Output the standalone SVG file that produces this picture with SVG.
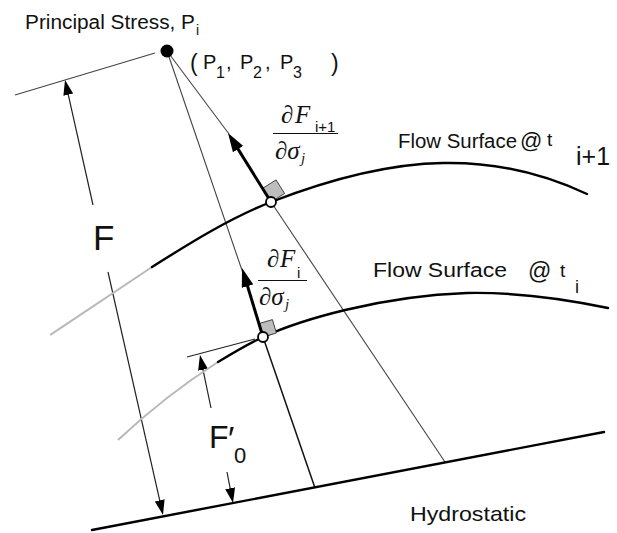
<svg xmlns="http://www.w3.org/2000/svg" width="617" height="533" viewBox="0 0 617 533">
<defs>
<marker id="ah" markerUnits="userSpaceOnUse" markerWidth="15" markerHeight="10" refX="5" refY="5" orient="auto"><path d="M0,0 L15,5 L0,10 z" fill="#000"/></marker>
<marker id="ahb" markerUnits="userSpaceOnUse" markerWidth="19" markerHeight="12" refX="5" refY="6" orient="auto"><path d="M0,0 L19,6 L0,12 z" fill="#000"/></marker>
</defs>
<style>
.sans{font-family:"Liberation Sans",Arial,sans-serif;fill:#111}
.math{font-family:"Liberation Serif","Times New Roman",serif;font-style:italic;fill:#111}
.thin{stroke:#444;stroke-width:1.1;fill:none}
.dim{stroke:#222;stroke-width:1.2;fill:none}
.surf{stroke:#000;stroke-width:2.4;fill:none;stroke-linecap:round}
.gray{stroke:#b8b8b8;stroke-width:2;fill:none}
.normal{stroke:#000;stroke-width:3;fill:none}
.sq{fill:#bdbdbd;stroke:#444;stroke-width:1}
.node{fill:#fff;stroke:#000;stroke-width:1.8}
</style>
<rect width="617" height="533" fill="#fff"/>

<g id="connectors">
  <path class="thin" d="M15,95 L155,53" stroke="#555" stroke-width="1.5"/>
  <path class="thin" d="M167,51 L246,282"/>
  <path class="thin" d="M167,51 L229,134"/>
  <path d="M263,337 L315,488" stroke="#111" stroke-width="1.5" fill="none"/>
  <path class="thin" d="M271,202 L445,462"/>
  <path class="dim" d="M93,205 L67.2,89.8" marker-end="url(#ah)"/>
  <path class="dim" d="M108,272 L160.8,505.2" marker-end="url(#ah)"/>
  <path class="dim" d="M187,357 L255,339"/>
  <path class="dim" d="M211,408 L202,364.8" marker-end="url(#ah)"/>
  <path class="dim" d="M227,472 L231.1,493.2" marker-end="url(#ah)"/>
</g>

<g id="surface-i1">
  <path class="gray" d="M50,335 C85,312 120,288 152,267"/>
  <path class="surf" d="M152,267 C190,243 230,218 271,202 C320,183 380,164 443,163 C490,162 540,172 587,194"/>
</g>
<g id="surface-i">
  <path class="gray" d="M118,440 C150,410 185,383 218,362"/>
  <path class="surf" d="M218,362 C233,353 248,344 263,337 C300,320 380,296 467,293 C520,292 570,300 608,308"/>
</g>
<g id="hydrostatic">
  <path class="surf" d="M92,530 L604,432"/>
  <text class="sans" x="410" y="521" font-size="21" textLength="116" lengthAdjust="spacingAndGlyphs">Hydrostatic</text>
</g>

<g id="normal-i1">
  <path class="sq" d="M271,202 L262.5,188.4 L276.1,179.9 L284.6,193.5 z"/>
  <path class="normal" d="M271,202 L235.4,144.9" marker-end="url(#ahb)"/>
</g>
<g id="normal-i">
  <path class="sq" d="M263,337 L259,323.6 L272.4,319.6 L276.4,333 z"/>
  <path class="normal" d="M263,337 L246.1,281.4" marker-end="url(#ahb)"/>
</g>

<g id="node-i1"><circle class="node" cx="271" cy="202" r="5"/></g>
<g id="node-i"><circle class="node" cx="263" cy="337" r="5"/></g>

<g id="point-P">
  <circle cx="167" cy="51" r="6.5" fill="#000"/>
  <text class="sans" x="25" y="29" font-size="20" textLength="170" lengthAdjust="spacingAndGlyphs">Principal Stress, P</text>
  <text class="sans" x="196" y="35" font-size="14">i</text>
  <text class="sans" font-size="20">
    <tspan x="190" y="71" font-size="23">(</tspan>
    <tspan x="203" y="69">P</tspan><tspan x="216" y="78" font-size="16">1</tspan><tspan x="226" y="69">,</tspan>
    <tspan x="240" y="69">P</tspan><tspan x="253" y="78" font-size="16">2</tspan><tspan x="265" y="69">,</tspan>
    <tspan x="280" y="69">P</tspan><tspan x="293" y="78" font-size="16">3</tspan>
    <tspan x="331" y="71" font-size="23">)</tspan>
  </text>
</g>

<g id="label-F">
  <text class="sans" x="93" y="250" font-size="35">F</text>
</g>
<g id="label-F0">
  <text class="sans" font-size="32"><tspan x="209" y="448">F</tspan><tspan x="228" y="450" font-size="34">′</tspan><tspan x="234" y="463" font-size="22">0</tspan></text>
</g>

<g id="grad-i1">
  <text class="math" x="281" y="123" font-size="25">∂</text>
  <text class="math" x="295" y="123" font-size="25">F</text>
  <text class="sans" x="315" y="132" font-size="15">i+1</text>
  <path d="M273,133.5 L338,133.5" stroke="#111" stroke-width="1.2"/>
  <text class="math" x="275" y="159" font-size="25">∂σ</text>
  <text class="math" x="301" y="163" font-size="15">j</text>
</g>
<g id="grad-i">
  <text class="math" x="267" y="267" font-size="25">∂</text>
  <text class="math" x="280" y="267" font-size="25">F</text>
  <text class="sans" x="297" y="278" font-size="15">i</text>
  <path d="M258,280.5 L307,280.5" stroke="#111" stroke-width="1.2"/>
  <text class="math" x="259" y="305" font-size="25">∂σ</text>
  <text class="math" x="285" y="309" font-size="15">j</text>
</g>

<g id="label-surface-i1">
  <text class="sans" x="398" y="148" font-size="20" textLength="119" lengthAdjust="spacingAndGlyphs">Flow Surface</text>
  <text class="sans" x="520" y="148" font-size="22">@</text>
  <text class="sans" x="547" y="146" font-size="19">t</text>
  <text class="sans" x="576" y="165" font-size="25">i+1</text>
</g>
<g id="label-surface-i">
  <text class="sans" x="373" y="277" font-size="20" textLength="134" lengthAdjust="spacingAndGlyphs">Flow Surface</text>
  <text class="sans" x="528" y="279" font-size="23">@</text>
  <text class="sans" x="560" y="277" font-size="19">t</text>
  <text class="sans" x="575" y="293" font-size="18">i</text>
</g>
</svg>
